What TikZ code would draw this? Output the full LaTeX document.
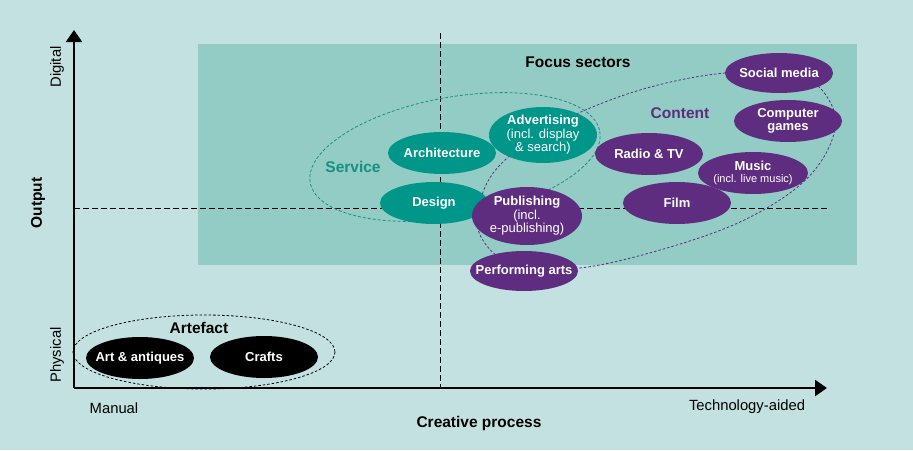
\documentclass[tikz,border=0pt]{standalone}
\usepackage{fontspec}
\setmainfont{Liberation Sans}
\usetikzlibrary{shapes.geometric,arrows.meta}

\definecolor{bgblue}{HTML}{C3E1E1}
\definecolor{focusgreen}{HTML}{93CCC4}
\definecolor{sectorteal}{HTML}{00968A}
\definecolor{sectorpurple}{HTML}{5E2D80}
\definecolor{serviceteal}{HTML}{16917F}

\tikzset{
  sector/.style={ellipse, minimum width=108pt, minimum height=42pt, inner xsep=-12pt, inner ysep=-6pt,
    text=white, align=center, font=\fontsize{13}{13.5}\selectfont\bfseries},
  servicesec/.style={sector, fill=sectorteal},
  contentsec/.style={sector, fill=sectorpurple},
  artefactsec/.style={sector, fill=black},
  grouplabel/.style={font=\fontsize{15.5}{16}\selectfont\bfseries},
  axislabel/.style={font=\fontsize{14.8}{15}\selectfont},
  axisline/.style={line width=2.5pt, -{Triangle[length=12pt,width=16pt]}},
  quadline/.style={dash pattern=on 6pt off 3pt, line width=0.8pt},
}

\begin{document}
\begin{tikzpicture}[x=1pt,y=-1pt]
\fill[bgblue] (0,0) rectangle (913,450);
\useasboundingbox (0,0) rectangle (913,450);

% focus area
\fill[focusgreen] (198,44) rectangle (857,265);
\node[grouplabel] (focus) at (578,62) {Focus sectors};

% quadrants
\coordinate (O) at (74,388);
\coordinate (ytop) at (74,30);
\coordinate (xend) at (827,388);
\coordinate (midleft) at (74,208);
\coordinate (midright) at (827,208);
\coordinate (midtop) at (440,33);
\coordinate (midbottom) at (440,388);
\draw[quadline] (midleft) -- (midright);
\draw[quadline] (midtop) -- (midbottom);

% groups
\draw[serviceteal, dash pattern=on 3pt off 2pt, line width=0.8pt, rotate around={10:(455,157)}]
  (455,157) ellipse [x radius=147, y radius=60];
\node[grouplabel, text=serviceteal] (service) at (353,167) {Service};

\draw[sectorpurple, dash pattern=on 2.5pt off 2pt, line width=0.8pt]
  plot[smooth cycle, tension=0.6] coordinates {(505,160) (560,122) (640,90) (725,73) (800,75)
  (833,108) (830,145) (800,185) (740,222) (660,250) (580,268) (515,266) (480,235) (482,195)};
\node[grouplabel, text=sectorpurple] (content) at (680,113) {Content};

\draw[dash pattern=on 2.5pt off 2pt, line width=0.8pt] (204,352) ellipse [x radius=131, y radius=37];
\node[grouplabel] (artefact) at (199,328) {Artefact};

% sectors
\node[servicesec] (arch) at (442,153) {Architecture};
\node[servicesec, minimum height=56pt] (advert) at (543,135)
  {Advertising\\ \mdseries(incl. display\\ \mdseries\& search)};
\node[servicesec] (design) at (434,203) {Design};
\node[contentsec, minimum width=110pt, minimum height=58pt] (publish) at (527,216)
  {Publishing\\ \mdseries(incl.\\ \mdseries e-publishing)};
\node[contentsec, minimum height=40pt] (perform) at (524,271) {Performing arts};
\node[contentsec] (radio) at (649,154) {Radio \& TV};
\node[contentsec, minimum width=110pt] (music) at (753,173)
  {Music\\[-1pt] \mdseries\fontsize{11}{11}\selectfont(incl. live music)};
\node[contentsec] (film) at (677,203) {Film};
\node[contentsec] (games) at (788,121) {Computer\\games};
\node[contentsec, minimum height=40pt] (social) at (779,73) {Social media};
\node[artefactsec] (art) at (140,358) {Art \& antiques};
\node[artefactsec] (crafts) at (264,357) {Crafts};

% axes
\draw[axisline] (O) -- (ytop);
\draw[axisline] (O) -- (xend);
\node[axislabel, rotate=90] (digital) at (57,67) {Digital};
\node[axislabel, rotate=90] (physical) at (57,355) {Physical};
\node[grouplabel, rotate=90] (output) at (38,203) {Output};
\node[axislabel] (manual) at (114,408) {Manual};
\node[axislabel] (techaided) at (747,407) {Technology-aided};
\node[grouplabel] (process) at (479,423) {Creative process};
\end{tikzpicture}
\end{document}
